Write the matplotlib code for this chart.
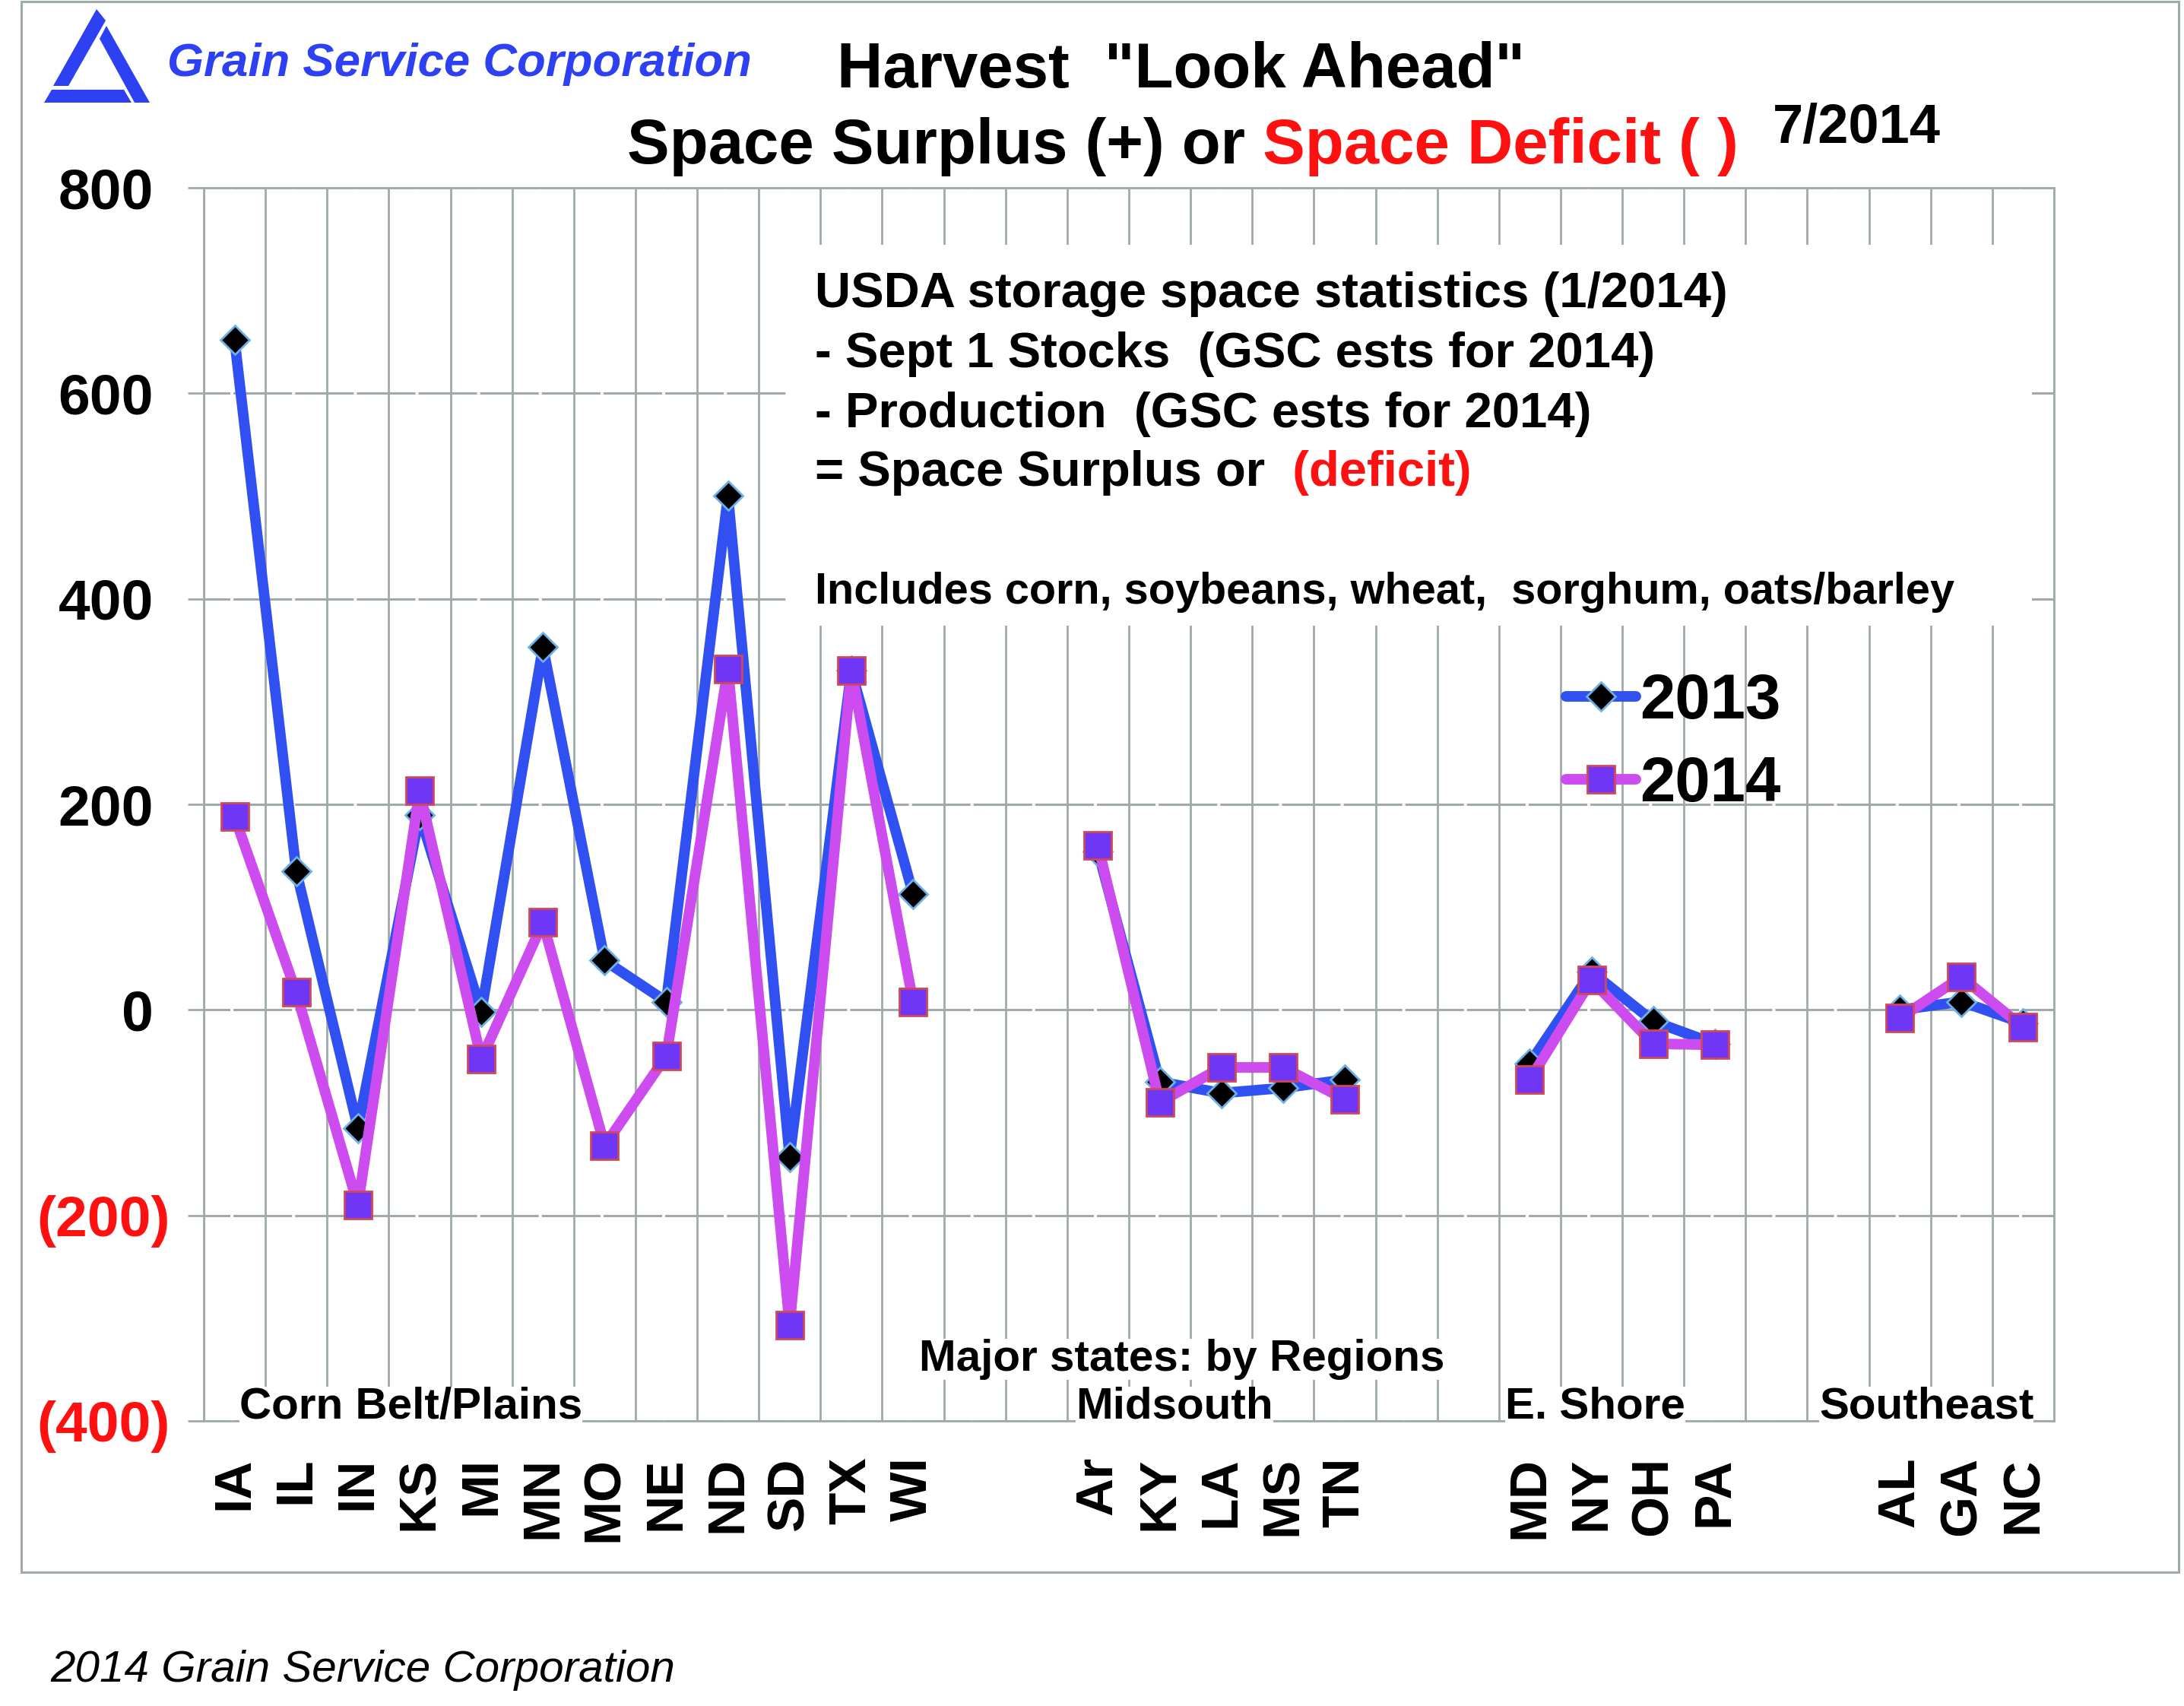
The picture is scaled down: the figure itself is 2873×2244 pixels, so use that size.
import numpy as np
import matplotlib
matplotlib.use("Agg")
import matplotlib.pyplot as plt
from matplotlib.patches import Polygon, Rectangle
from matplotlib.transforms import offset_copy

plt.rcParams['font.family'] = ['Liberation Sans', 'DejaVu Sans']
plt.rcParams['lines.scale_dashes'] = False

# states grouped by region, empty slots are the gaps between regions
states = ['IA', 'IL', 'IN', 'KS', 'MI', 'MN', 'MO', 'NE', 'ND', 'SD', 'TX', 'WI', '', '',
          'Ar', 'KY', 'LA', 'MS', 'TN', '', '',
          'MD', 'NY', 'OH', 'PA', '', '',
          'AL', 'GA', 'NC']
nan = np.nan
y2013 = [652, 135, -115, 190, -2, 353, 48, 8, 500, -143, 330, 113, nan, nan,
         154, -70, -81, -76, -68, nan, nan,
         -52, 37, -11, -33, nan, nan,
         0, 8, -13]
y2014 = [188, 17, -190, 213, -48, 85, -132, -45, 332, -307, 330, 8, nan, nan,
         160, -90, -56, -56, -87, nan, nan,
         -68, 29, -33, -34, nan, nan,
         -8, 32, -17]
ytick_vals = [800, 600, 400, 200, 0, -200, -400]
ytick_text = ['800', '600', '400', '200', '0', '(200)', '(400)']

regions = ['Corn Belt/Plains', 'Midsouth', 'E. Shore', 'Southeast']
region_left = [315, 1415, 1980, 2393]  # pixel x of each region label

grid_c = '#A0AAAA'
c13 = '#3050F2'
c14 = '#CC4CF0'
logo_c = '#2D40F2'

W, H = 2873, 2244
def fx(p): return p / W
def fy(p): return 1 - p / H

fig = plt.figure(figsize=(W / 100, H / 100), dpi=100)
ax = fig.add_axes([fx(268), fy(1869), 2434 / W, 1622 / H])

x = np.arange(len(states))

# outer frame
fig.add_artist(Rectangle((fx(28), fy(2068)), fx(2866) - fx(28), fy(2) - fy(2068),
                         transform=fig.transFigure, fill=False, edgecolor=grid_c, lw=2.2))

# logo
logo = [
    [(127, 12), (139, 27), (90, 113), (70, 113)],
    [(140, 34), (197, 135), (177, 135), (131, 51)],
    [(68, 118), (163, 118), (173, 135), (58, 135)],
]
for poly in logo:
    fig.add_artist(Polygon([(fx(a), fy(b)) for a, b in poly], closed=True,
                           transform=fig.transFigure, facecolor=logo_c, edgecolor='none'))
fig.text(fx(220), fy(100), 'Grain Service Corporation', color=logo_c, fontsize=44.5,
         style='italic', weight='bold', va='baseline')

# titles
fig.text(fx(1553), fy(115), 'Harvest  "Look Ahead"', fontsize=60, weight='bold',
         ha='center', va='baseline')
t = fig.text(fx(825), fy(215), 'Space Surplus (+) or', fontsize=60, weight='bold', va='baseline')
ax.annotate(' Space Deficit ( )', xy=(1, 0), xycoords=t, va='bottom', ha='left',
            fontsize=60, weight='bold', color='#FF1010')
fig.text(fx(2332), fy(188), '7/2014', fontsize=52, weight='bold', va='baseline')

# grid
ax.set_xlim(-0.5, len(states) - 0.5)
ax.set_ylim(-400, 800)
ax.set_axisbelow(True)
ax.set_xticks(x)
ax.set_xticklabels(states, rotation=90, fontsize=50, weight='bold')
ax.set_xticks(np.arange(-0.5, len(states)), minor=True)
ax.tick_params(axis='x', which='both', length=0, pad=34)
ax.grid(True, which='minor', axis='x', color=grid_c, lw=2)
ax.set_yticks(ytick_vals)
ax.set_yticklabels([])
ax.tick_params(axis='y', length=15, width=2, color=grid_c, direction='out')
period = 2434 / len(states) * 0.72
ax.grid(True, which='major', axis='y', color=grid_c, lw=2.2,
        linestyle=(period / 2 + 1.4, (period - 2.9, 2.9)))
ax.grid(False, which='major', axis='x')
for s in ax.spines.values():
    s.set_color(grid_c)
    s.set_linewidth(2)

ytr = offset_copy(ax.get_yaxis_transform(), fig=fig, y=-19.5, units='points')
for v, s in zip(ytick_vals, ytick_text):
    neg = v < 0
    ax.text(-0.0181 if neg else -0.0271, v, s, transform=ytr, ha='right', va='baseline',
            fontsize=54, weight='bold', color='#FF1010' if neg else 'black', clip_on=False)

# white panel behind the notes
ax.add_patch(Rectangle((0.3155, 0.645), 0.988 - 0.3155, 0.954 - 0.645, transform=ax.transAxes,
                       facecolor='white', edgecolor='none', zorder=1))

notes = ['USDA storage space statistics (1/2014)',
         '- Sept 1 Stocks  (GSC ests for 2014)',
         '- Production  (GSC ests for 2014)']
for i, s in enumerate(notes):
    fig.text(fx(1072), fy(404 + 79 * i), s, fontsize=47, weight='bold', va='baseline')
t4 = fig.text(fx(1072), fy(639), '= Space Surplus or', fontsize=47, weight='bold', va='baseline')
ax.annotate('  (deficit)', xy=(1, 0), xycoords=t4, va='bottom', ha='left',
            fontsize=47, weight='bold', color='#FF1010')
fig.text(fx(1072), fy(794), 'Includes corn, soybeans, wheat,  sorghum, oats/barley',
         fontsize=41.5, weight='bold', va='baseline')

# series
ax.plot(x, y2013, color=c13, lw=10, marker='D', ms=19, mfc='black', mec='#6CB0E8', mew=2,
        solid_joinstyle='round', solid_capstyle='round', zorder=3, label='2013')
ax.plot(x, y2014, color=c14, lw=10, marker='s', ms=26, mfc='#6F36F5', mec='#D0475A', mew=2,
        solid_joinstyle='round', solid_capstyle='round', zorder=4, label='2014')

ax.legend(loc='upper left', bbox_to_anchor=(fx(2060), fy(884)), bbox_transform=fig.transFigure,
          frameon=False, prop=dict(weight='bold', size=60), handlelength=1.1,
          handletextpad=0.06, labelspacing=0.37, borderpad=0, borderaxespad=0)

# region labels
wbox = dict(facecolor='white', edgecolor='none', pad=0)
fig.text(fx(1209), fy(1803), 'Major states: by Regions', fontsize=42, weight='bold',
         va='baseline', bbox=wbox)
for name, left in zip(regions, region_left):
    fig.text(fx(left), fy(1866), name, fontsize=42, weight='bold', va='baseline', bbox=wbox)

fig.text(fx(66), fy(2212), '2014 Grain Service Corporation', fontsize=42, style='italic',
         va='baseline')

fig.savefig('out.png', dpi=100, facecolor='white')
